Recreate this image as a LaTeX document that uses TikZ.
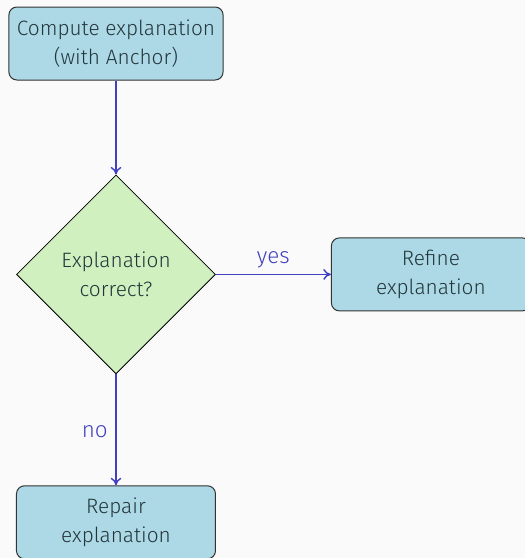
\documentclass[tikz,border=0pt]{standalone}
\usepackage{fontspec}
\setmainfont{Fira Sans Light}
\usepackage{tikz}
\usetikzlibrary{positioning,shapes.geometric,arrows.meta}
\definecolor{bgcolor}{RGB}{250,250,250}
\definecolor{boxblue}{RGB}{173,216,230}
\definecolor{boxgreen}{RGB}{208,240,192}
\definecolor{textdark}{RGB}{35,55,59}
\definecolor{flowblue}{RGB}{64,64,192}

\begin{document}
\begin{tikzpicture}[
    font=\fontsize{10.4}{14.5}\selectfont,
    every node/.style={text=textdark},
    block/.style={rectangle,rounded corners=4pt,draw=black!80,line width=0.5pt,
      fill=boxblue,align=center,minimum width=99.5pt,minimum height=36.5pt,inner sep=4pt},
    decision/.style={diamond,aspect=1,draw,line width=0.4pt,fill=boxgreen,
      align=center,minimum size=99.5pt,inner sep=0pt},
    flow/.style={-{To[length=3.8pt,width=5.4pt]},draw=flowblue,line width=0.7pt},
    answer/.style={text=flowblue,font=\fontsize{11.2}{13}\selectfont},
    node distance=47pt
  ]
  % page area
  \path[use as bounding box,fill=bgcolor] (-58pt,21.75pt) rectangle (204.5pt,-257.25pt);

  % the steps
  \node[block] (compute) at (0,0) {Compute explanation\\(with Anchor)};
  \node[decision,below=of compute] (check) {Explanation\\correct?};
  \node[block,right=57.5pt of check] (refine) {Refine\\explanation};
  \node[block,below=55.5pt of check] (repair) {Repair\\explanation};

  % the edges
  \draw[flow] (compute) -- (check);
  \draw[flow] (check) -- node[answer,above=-0.5pt] {yes} (refine);
  \draw[flow] (check) -- node[answer,left=0.5pt,yshift=-1pt] {no} (repair);
\end{tikzpicture}
\end{document}
